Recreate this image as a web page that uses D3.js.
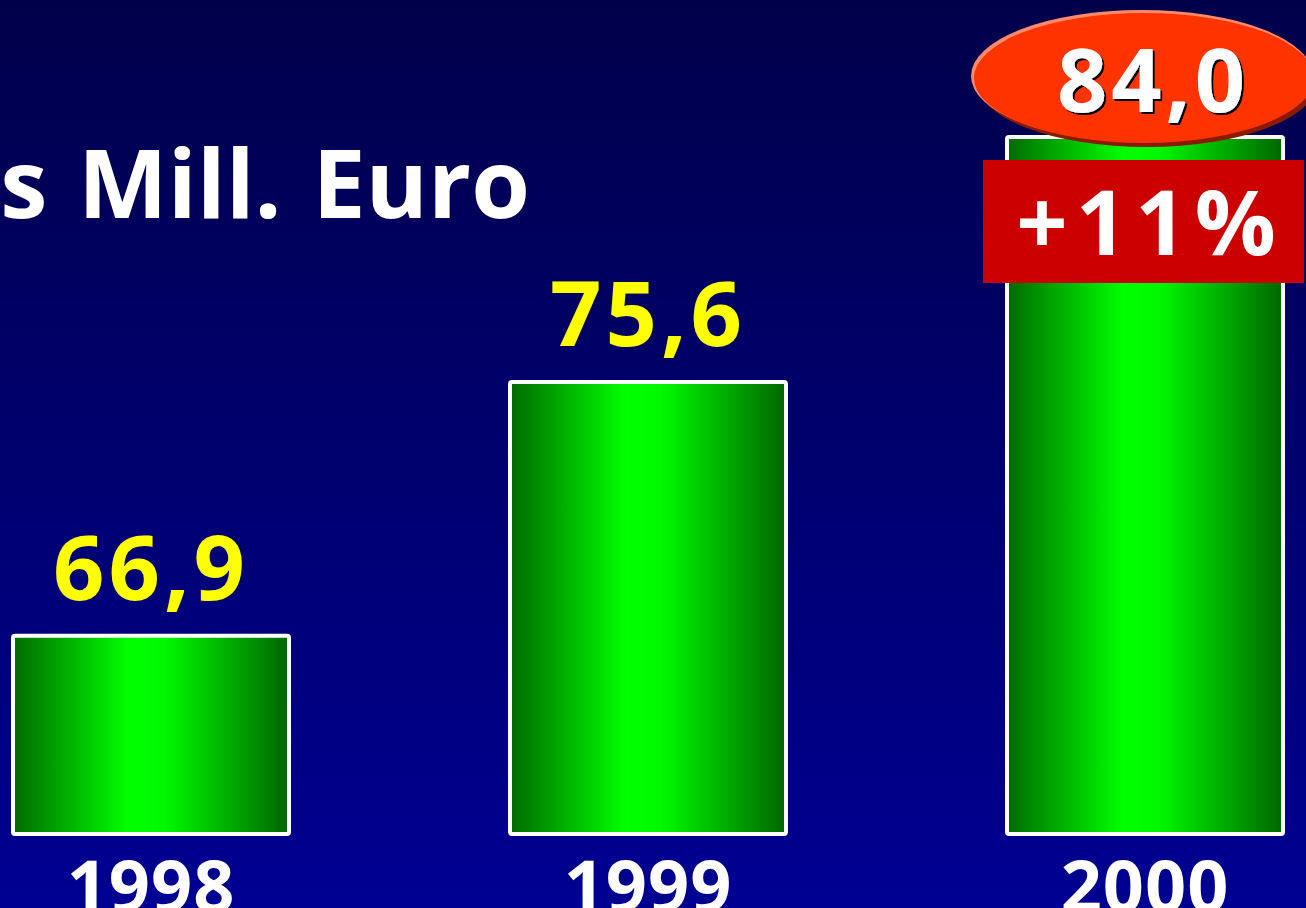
<!DOCTYPE html>
<html>
<head>
<meta charset="utf-8">
<script src="https://cdn.jsdelivr.net/npm/d3@7"></script>
<style>
  html, body { margin: 0; padding: 0; overflow: hidden; }
  svg { display: block; font-family: "Open Sans", sans-serif; font-weight: 700; }
</style>
</head>
<body>
<main></main>
<script>
const years = ["1998", "1999", "2000"];
const values = [66.9, 75.6, 84.0];
const valueLabels = ["66,9", "75,6", "84,0"];
const title = "s Mill. Euro";
const growthLabel = "+11%";

const w = 1306;
const h = 908;

const svg = d3.select("main")
  .append("svg")
  .attr("width", w)
  .attr("height", h);

const defs = svg.append("defs");

const bg = defs.append("linearGradient")
  .attr("id", "bg")
  .attr("x1", 0).attr("y1", 0)
  .attr("x2", 0).attr("y2", 1);
bg.append("stop").attr("offset", 0).attr("stop-color", "#00004a");
bg.append("stop").attr("offset", 1).attr("stop-color", "#000092");

const barFill = defs.append("linearGradient")
  .attr("id", "barFill")
  .attr("x1", 0).attr("y1", 0)
  .attr("x2", 1).attr("y2", 0);
[[0, "#006a00"], [0.42, "#00ff00"], [0.55, "#00f800"], [1, "#006600"]]
  .forEach(([o, c]) => barFill.append("stop").attr("offset", o).attr("stop-color", c));

const shadow = defs.append("filter").attr("id", "shadow");
shadow.append("feDropShadow")
  .attr("dx", 2).attr("dy", 2)
  .attr("stdDeviation", 0.5)
  .attr("flood-color", "#000")
  .attr("flood-opacity", 1);

svg.append("rect")
  .attr("width", w)
  .attr("height", h)
  .attr("fill", "url(#bg)");

const x = d3.scaleBand()
  .domain(years)
  .range([13, 1283])
  .paddingInner(0.4447)
  .paddingOuter(0);

const y = d3.scaleLinear()
  .domain([60.1, 84])
  .range([834, 137]);

svg.append("text")
  .attr("x", 530)
  .attr("y", 218)
  .attr("text-anchor", "end")
  .attr("fill", "#fff")
  .attr("font-size", 95)
  .attr("word-spacing", 6)
  .text(title);

svg.append("g")
  .selectAll("rect")
  .data(values)
  .join("rect")
  .attr("x", (d, i) => x(years[i]))
  .attr("y", d => y(d))
  .attr("width", x.bandwidth())
  .attr("height", d => y.range()[0] - y(d))
  .attr("fill", "url(#barFill)")
  .attr("stroke", "#fff")
  .attr("stroke-width", 4)
  .attr("rx", 2);

// value labels above the first two bars
svg.append("g")
  .selectAll("text")
  .data(values.slice(0, 2))
  .join("text")
  .attr("x", (d, i) => x(years[i]) + x.bandwidth() / 2)
  .attr("y", d => y(d) - 36)
  .attr("text-anchor", "middle")
  .attr("fill", "#ffff00")
  .attr("font-size", 90)
  .attr("letter-spacing", 4)
  .text((d, i) => valueLabels[i]);

svg.append("g")
  .selectAll("text")
  .data(years)
  .join("text")
  .attr("x", d => x(d) + x.bandwidth() / 2)
  .attr("y", 912)
  .attr("text-anchor", "middle")
  .attr("fill", "#fff")
  .attr("font-size", 72)
  .attr("letter-spacing", 1)
  .text(d => d);

// highlight for the last year
const last = values.length - 1;
const cx = x(years[last]) + x.bandwidth() / 2;

const badge = svg.append("g");
badge.append("ellipse")
  .attr("cx", cx - 1 + 3).attr("cy", 78 + 3)
  .attr("rx", 171).attr("ry", 66)
  .attr("fill", "#8a1a00");
badge.append("ellipse")
  .attr("cx", cx - 1 - 2).attr("cy", 78 - 2)
  .attr("rx", 171).attr("ry", 66)
  .attr("fill", "#ff8a6a");
badge.append("ellipse")
  .attr("cx", cx - 1).attr("cy", 78)
  .attr("rx", 170).attr("ry", 65)
  .attr("fill", "#ff3300");
badge.append("text")
  .attr("x", cx + 8)
  .attr("y", 112)
  .attr("text-anchor", "middle")
  .attr("fill", "#fff")
  .attr("font-size", 88)
  .attr("letter-spacing", 4)
  .attr("filter", "url(#shadow)")
  .text(valueLabels[last]);

svg.append("rect")
  .attr("x", 983)
  .attr("y", 160)
  .attr("width", 321)
  .attr("height", 123)
  .attr("fill", "#cc0000");
svg.append("text")
  .attr("x", 1150)
  .attr("y", 255)
  .attr("text-anchor", "middle")
  .attr("fill", "#fff")
  .attr("font-size", 90)
  .attr("letter-spacing", 8)
  .text(growthLabel);
</script>
</body>
</html>
